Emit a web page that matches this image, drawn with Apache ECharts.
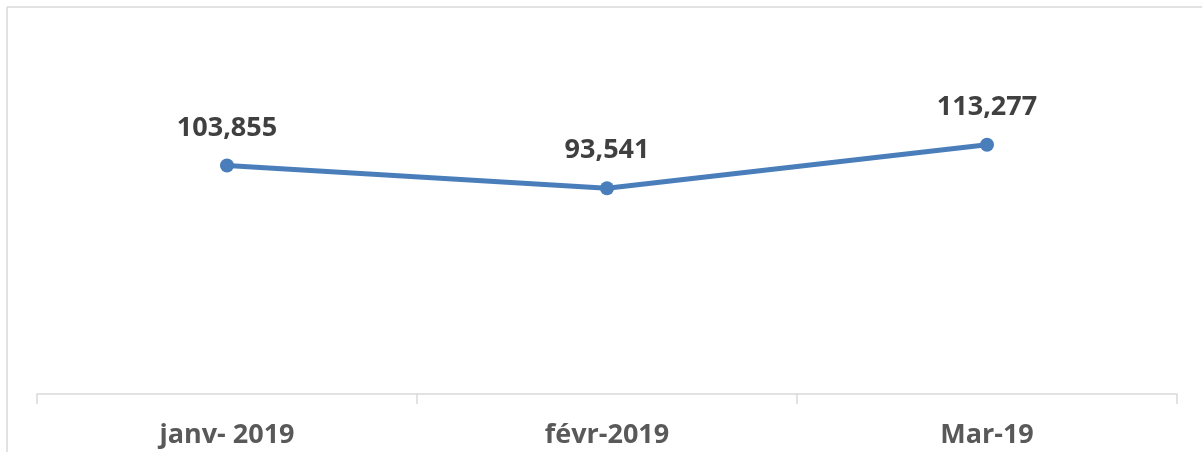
<!DOCTYPE html>
<html>
<head>
<meta charset="utf-8">
<script src="https://cdn.jsdelivr.net/npm/echarts@6/dist/echarts.min.js"></script>
<style>
html,body{margin:0;padding:0;background:#fff;}
#chart{width:1202px;height:452px;}
</style>
</head>
<body>
<div id="chart"></div>
<script>
const categories = ['janv- 2019', 'févr-2019', 'Mar-19'];
const values = [103855, 93541, 113277];

const chart = echarts.init(document.getElementById('chart'), null, {renderer: 'canvas'});
chart.setOption({
  animation: false,
  backgroundColor: '#ffffff',
  graphic: [
    {type: 'line', shape: {x1: 7, y1: 7, x2: 1202, y2: 7}, style: {stroke: '#d9d9d9', lineWidth: 1.5}},
    {type: 'line', shape: {x1: 7, y1: 7, x2: 7, y2: 452}, style: {stroke: '#d9d9d9', lineWidth: 1.5}}
  ],
  grid: {left: 37, right: 25, top: 130, bottom: 58, containLabel: false},
  xAxis: {
    type: 'category',
    data: categories,
    boundaryGap: true,
    axisLine: {show: true, lineStyle: {color: '#d9d9d9', width: 1.5}},
    axisTick: {show: true, length: 10, lineStyle: {color: '#d9d9d9', width: 1.5}},
    axisLabel: {
      margin: 28,
      fontFamily: 'Open Sans',
      fontWeight: 'bold',
      fontSize: 27,
      color: '#595959'
    }
  },
  yAxis: {
    type: 'value',
    min: 0,
    max: 120000,
    show: false,
    splitLine: {show: false}
  },
  series: [{
    type: 'line',
    data: values,
    symbol: 'circle',
    symbolSize: 14,
    itemStyle: {color: '#4a7ebb'},
    lineStyle: {color: '#4a7ebb', width: 5},
    label: {
      show: true,
      position: 'top',
      distance: 17,
      fontFamily: 'Open Sans',
      fontWeight: 'bold',
      fontSize: 27,
      color: '#404040',
      formatter: p => p.value.toLocaleString('en-US')
    }
  }]
});
</script>
</body>
</html>
